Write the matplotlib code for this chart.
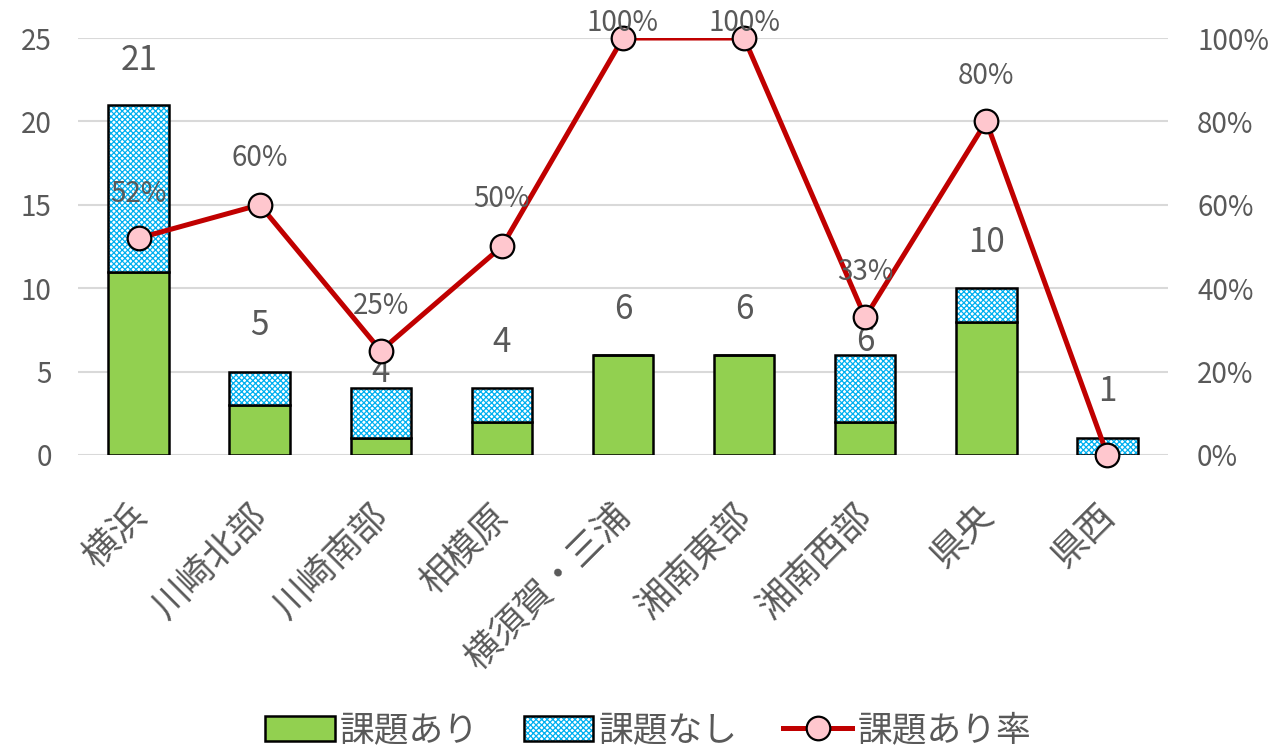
import numpy as np
import matplotlib
matplotlib.use('Agg')
import matplotlib.pyplot as plt
from matplotlib.patches import Patch
from matplotlib.lines import Line2D
from matplotlib.legend_handler import HandlerTuple
from matplotlib.transforms import ScaledTranslation

plt.rcParams['font.family'] = ['Noto Sans CJK JP', 'DejaVu Sans']
plt.rcParams['hatch.linewidth'] = 0.9

# data
areas = ['横浜', '川崎北部', '川崎南部', '相模原', '横須賀・三浦', '湘南東部', '湘南西部', '県央', '県西']
ari = [11, 3, 1, 2, 6, 6, 2, 8, 0]      # 課題あり
nashi = [10, 2, 3, 2, 0, 0, 4, 2, 1]    # 課題なし
rate = [0.52, 0.60, 0.25, 0.50, 1.00, 1.00, 0.33, 0.80, 0.00]  # 課題あり率
rate_labels = ['52%', '60%', '25%', '50%', '100%', '100%', '33%', '80%', '']
# label offsets (points) as placed in the original
total_off = [32, 33, 11, 33, 33, 33, 10, 33, 34]
rate_off = [32, 34, 32, 34, 11, 11, 33, 33, 0]

grey = '#595959'
green = '#92D050'
blue = '#00B0F0'
red = '#C00000'
pink = '#FFC7CE'

x = np.arange(len(areas))
total = [a + n for a, n in zip(ari, nashi)]

fig = plt.figure(figsize=(12.71, 7.53), dpi=100)
ax = fig.add_axes([0.0614, 0.3958, 0.8575, 0.5537])

ax.bar(x, ari, width=0.5, color=green, edgecolor='black', linewidth=1.8, zorder=2)
ax.bar(x, nashi, width=0.5, bottom=ari, color='white', edgecolor=blue, hatch='xxxxxx',
       linewidth=0, zorder=2)
ax.bar(x, nashi, width=0.5, bottom=ari, fill=False, edgecolor='black', linewidth=1.8, zorder=3)

for i, t in enumerate(total):
    ax.annotate(str(t), (x[i], t), xytext=(0, total_off[i]), textcoords='offset points',
                ha='center', va='center', fontsize=24, color=grey, zorder=5)

ax.set_xlim(-0.5, len(areas) - 0.5)
ax.set_ylim(0, 25)
ax.set_yticks([0, 5, 10, 15, 20, 25])
ax.yaxis.grid(True, color='#D9D9D9', linewidth=1.5, zorder=0)
ax.set_axisbelow(True)
for s in ax.spines.values():
    s.set_visible(False)
ax.tick_params(axis='y', length=0, pad=19, labelsize=20, labelcolor=grey)
ax.tick_params(axis='x', length=0, pad=31, labelsize=26, labelcolor=grey)
ax.set_xticks(x, areas, rotation=45, ha='right', rotation_mode='anchor')
shift = ScaledTranslation(-0.11, 0, fig.dpi_scale_trans)
for lab in ax.get_xticklabels():
    lab.set_transform(lab.get_transform() + shift)

ax2 = ax.twinx()
ax2.set_ylim(0, 1)
ax2.set_yticks([0, 0.2, 0.4, 0.6, 0.8, 1.0], ['0%', '20%', '40%', '60%', '80%', '100%'])
for s in ax2.spines.values():
    s.set_visible(False)
ax2.tick_params(axis='y', length=0, pad=21, labelsize=20, labelcolor=grey)
ax2.plot(x, rate, color=red, linewidth=3.6, zorder=3)
ax2.plot(x, rate, linestyle='none', marker='o', markersize=17, markerfacecolor=pink,
         markeredgecolor='black', markeredgewidth=1.6, clip_on=False, zorder=4)
for i, r in enumerate(rate):
    if rate_labels[i]:
        ax2.annotate(rate_labels[i], (x[i], r), xytext=(0, rate_off[i]), textcoords='offset points',
                     ha='center', va='center', fontsize=20, color=grey, zorder=5,
                     annotation_clip=False)

h1 = Patch(facecolor=green, edgecolor='black', linewidth=1.8)
h2a = Patch(facecolor='white', edgecolor=blue, hatch='xxxxxx', linewidth=0)
h2b = Patch(fill=False, edgecolor='black', linewidth=1.8)
h3 = Line2D([], [], color=red, linewidth=3.6, marker='o', markersize=17, markerfacecolor=pink,
            markeredgecolor='black', markeredgewidth=1.6)
leg = fig.legend([h1, (h2a, h2b), h3], ['課題あり', '課題なし', '課題あり率'],
                 handler_map={tuple: HandlerTuple(ndivide=1, pad=0)},
                 loc='lower center', bbox_to_anchor=(0.51, -0.036), ncol=3, frameon=False,
                 fontsize=25, handlelength=2.0, handleheight=0.75, handletextpad=0.15,
                 columnspacing=1.3)
for t in leg.get_texts():
    t.set_color(grey)

fig.savefig('out.png', dpi=100)
